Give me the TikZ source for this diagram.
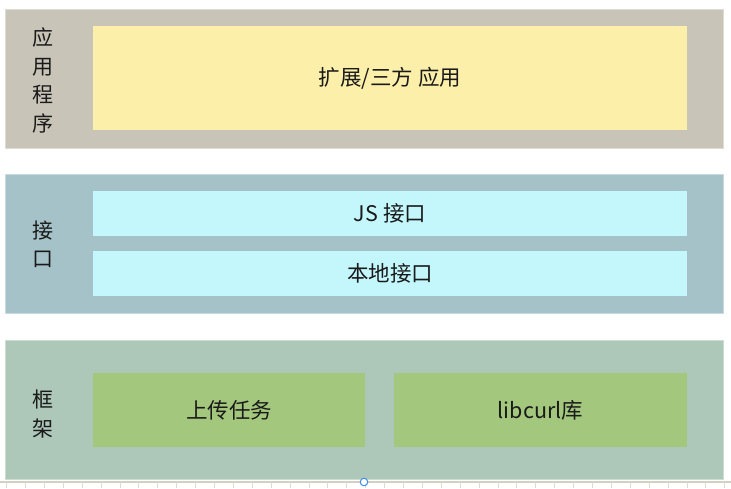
\documentclass[tikz,border=0pt]{standalone}
\usepackage{fontspec}
\newfontfamily\cjk{Noto Sans CJK SC}
\definecolor{panelA}{HTML}{C8C4B8}
\definecolor{panelB}{HTML}{A4C2C8}
\definecolor{panelC}{HTML}{ADC7B8}
\definecolor{boxA}{HTML}{FCEFAA}
\definecolor{boxB}{HTML}{C4F7FC}
\definecolor{boxC}{HTML}{A3C77D}
\definecolor{txt}{HTML}{1A1A1A}
\definecolor{ruler}{HTML}{D4D0C4}
\definecolor{handle}{HTML}{3D8BE8}
\tikzset{
  panel/.style={rectangle, inner sep=0pt, line width=0.8pt},
  content/.style={rectangle, inner sep=0pt, text=txt, font=\cjk\fontsize{21.5}{24}\selectfont},
  sidelabel/.style={inner sep=0pt, text=txt, align=center, font=\cjk\fontsize{21}{28.5}\selectfont},
}
\begin{document}
\begin{tikzpicture}[x=1pt,y=-1pt]
\useasboundingbox (0,0) rectangle (731,488);
\fill[white] (0,0) rectangle (731,488);
% panels
\node[panel, fill=panelA, draw=panelA!60!white, minimum width=718pt, minimum height=139pt] (p1) at (364,78.5) {};
\node[panel, fill=panelB, draw=panelB!60!white, minimum width=718pt, minimum height=139pt] (p2) at (364,243.5) {};
\node[panel, fill=panelC, draw=panelC!60!white, minimum width=718pt, minimum height=139pt] (p3) at (364,409.5) {};
% side labels
\node[sidelabel] (l1) at (43,80.5) {应\\用\\程\\序};
\node[sidelabel] (l2) at (43,244.5) {接\\口};
\node[sidelabel] (l3) at (43,414) {框\\架};
% content boxes
\node[content, fill=boxA, minimum width=594pt, minimum height=104pt] (app) at (390,78) {\raisebox{-1.5pt}{扩展/三方 应用}};
\node[content, fill=boxB, minimum width=594pt, minimum height=45pt] (js) at (390,213.5) {\raisebox{-1pt}{JS 接口}};
\node[content, fill=boxB, minimum width=594pt, minimum height=45pt] (native) at (390,273.5) {\raisebox{-1pt}{本地接口}};
\node[content, fill=boxC, minimum width=272pt, minimum height=74pt] (upload) at (229,410) {\raisebox{-1pt}{上传任务}};
\node[content, fill=boxC, minimum width=293pt, minimum height=74pt] (curl) at (540.5,410) {\raisebox{-1pt}{libcurl库}};
% ruler
\coordinate (rl) at (0,482);
\coordinate (rr) at (731,482);
\draw[ruler, line width=1.2pt] (rl) -- (rr);
\foreach \i in {0,...,38} {
  \draw[ruler!80!white, line width=0.8pt] (6.5+18.9*\i,482) -- (6.5+18.9*\i,488);
}
\node[circle, draw=handle, fill=white, line width=1pt, minimum size=7.5pt, inner sep=0pt] (h) at (364,482) {};
\end{tikzpicture}
\end{document}
